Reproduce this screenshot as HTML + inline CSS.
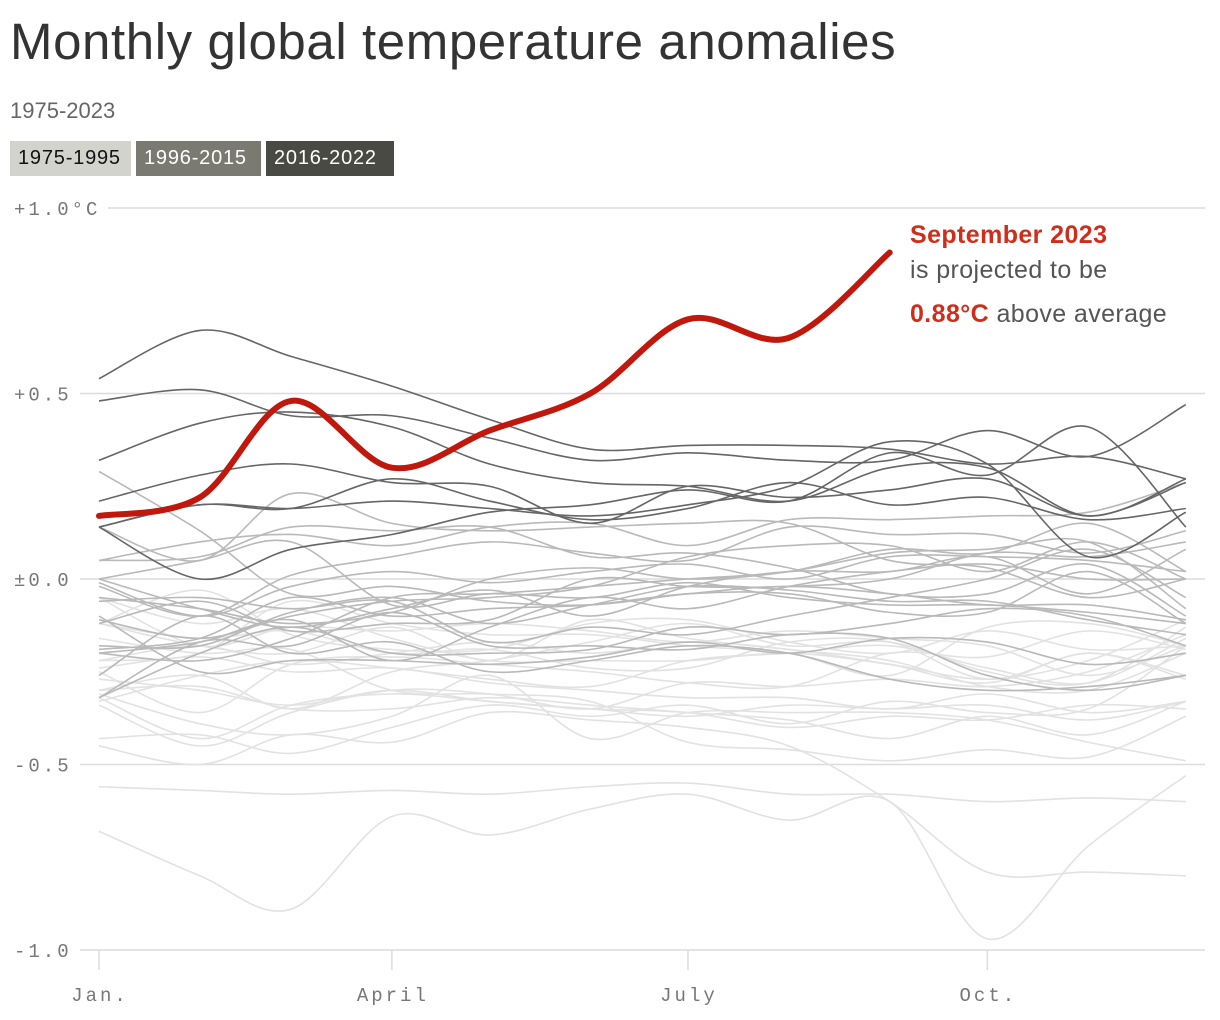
<!DOCTYPE html>
<html><head><meta charset="utf-8"><style>
body{margin:0;background:#fff;font-family:"Liberation Sans",sans-serif;}
#wrap{position:relative;width:1220px;height:1020px;overflow:hidden;}
h1{position:absolute;left:10px;top:12px;margin:0;font-size:51px;font-weight:400;color:#333;letter-spacing:0.6px;}
.sub{position:absolute;left:10px;top:98px;font-size:22px;color:#666;}
.lg{position:absolute;top:141px;height:35px;line-height:35px;font-size:20px;padding:0 0 0 8px;box-sizing:border-box;letter-spacing:0.8px;}
</style></head><body><div id="wrap">
<h1>Monthly global temperature anomalies</h1>
<div class="sub">1975-2023</div>
<div class="lg" style="left:10px;width:121px;background:#d3d3ce;color:#111">1975-1995</div>
<div class="lg" style="left:136px;width:125px;background:#7a7a70;color:#fff">1996-2015</div>
<div class="lg" style="left:266px;width:128px;background:#4a4a44;color:#fff">2016-2022</div>
<svg id="chart" width="1220" height="1020" style="position:absolute;left:0;top:0"></svg>
</div>
<script>
const months=["Jan.","Feb","Mar","April","May","Jun","July","Aug","Sep","Oct.","Nov","Dec"];
const monthStartDays=[0,31,59,90,120,151,181,212,243,273,304,334];
const xTickLabels=["Jan.","April","July","Oct."];
const xTickMonths=[0,3,6,9];
const yTicks=[1,0.5,0,-0.5,-1];
const yTickLabels=["+1.0°C","+0.5","±0.0","-0.5","-1.0"];
const lightYears=[
[-0.45,-0.50,-0.42,-0.44,-0.36,-0.38,-0.40,-0.45,-0.60,-0.79,-0.79,-0.80],
[-0.68,-0.80,-0.89,-0.64,-0.69,-0.62,-0.58,-0.65,-0.60,-0.97,-0.72,-0.53],
[-0.56,-0.57,-0.58,-0.57,-0.58,-0.56,-0.55,-0.58,-0.58,-0.60,-0.59,-0.60],
[-0.27,-0.30,-0.34,-0.30,-0.33,-0.35,-0.36,-0.40,-0.37,-0.38,-0.34,-0.35],
[-0.34,-0.45,-0.36,-0.30,-0.31,-0.35,-0.28,-0.29,-0.27,-0.29,-0.25,-0.15],
[-0.22,-0.18,-0.23,-0.20,-0.17,-0.20,-0.17,-0.19,-0.23,-0.28,-0.20,-0.27],
[-0.05,-0.12,-0.08,-0.16,-0.22,-0.22,-0.22,-0.20,-0.23,-0.27,-0.22,-0.11],
[-0.43,-0.42,-0.47,-0.40,-0.34,-0.37,-0.34,-0.39,-0.33,-0.36,-0.35,-0.18],
[-0.12,-0.16,-0.14,-0.20,-0.19,-0.24,-0.24,-0.17,-0.17,-0.27,-0.20,-0.26],
[-0.31,-0.39,-0.42,-0.37,-0.26,-0.43,-0.36,-0.36,-0.36,-0.38,-0.44,-0.49],
[-0.32,-0.43,-0.34,-0.31,-0.33,-0.35,-0.37,-0.34,-0.35,-0.34,-0.38,-0.33],
[-0.24,-0.21,-0.25,-0.24,-0.28,-0.30,-0.32,-0.32,-0.35,-0.31,-0.36,-0.33],
[-0.30,-0.26,-0.35,-0.25,-0.22,-0.17,-0.12,-0.18,-0.17,-0.25,-0.28,-0.13],
[-0.05,-0.18,-0.13,-0.14,-0.12,-0.14,-0.17,-0.14,-0.16,-0.18,-0.26,-0.18],
[-0.33,-0.26,-0.22,-0.24,-0.27,-0.29,-0.22,-0.20,-0.18,-0.24,-0.28,-0.16],
[-0.22,-0.20,-0.06,-0.12,-0.15,-0.15,-0.18,-0.20,-0.26,-0.13,-0.12,-0.18],
[-0.12,-0.18,-0.20,-0.13,-0.22,-0.11,-0.16,-0.19,-0.22,-0.29,-0.30,-0.20],
[-0.16,-0.20,-0.19,-0.30,-0.31,-0.33,-0.44,-0.46,-0.49,-0.46,-0.48,-0.37],
[-0.30,-0.29,-0.35,-0.35,-0.32,-0.34,-0.36,-0.38,-0.43,-0.37,-0.42,-0.33],
[-0.25,-0.36,-0.23,-0.21,-0.23,-0.25,-0.28,-0.29,-0.20,-0.21,-0.14,-0.19],
[-0.12,-0.03,-0.15,-0.19,-0.19,-0.12,-0.11,-0.17,-0.20,-0.14,-0.19,-0.18]];
const midYears=[
[-0.26,-0.10,-0.20,-0.17,-0.25,-0.22,-0.18,-0.20,-0.27,-0.30,-0.29,-0.26],
[-0.20,-0.17,-0.11,-0.22,-0.13,-0.05,-0.08,-0.02,0.02,0.04,0.00,0.00],
[0.14,0.05,0.23,0.15,0.13,0.14,0.15,0.15,0.05,0.03,-0.05,0.00],
[-0.10,-0.25,-0.22,-0.22,-0.23,-0.21,-0.17,-0.20,-0.16,-0.17,-0.23,-0.20],
[-0.32,-0.17,-0.18,-0.09,-0.18,-0.18,-0.19,-0.15,-0.16,-0.26,-0.30,-0.26],
[-0.19,-0.16,-0.05,-0.10,-0.08,-0.07,-0.04,-0.04,-0.09,-0.09,0.02,-0.12],
[0.00,0.05,0.10,-0.07,-0.04,-0.05,-0.01,-0.05,-0.07,-0.07,-0.09,-0.12],
[0.00,-0.08,-0.13,-0.08,-0.03,-0.10,-0.02,0.02,0.02,0.06,-0.04,0.08],
[-0.06,-0.05,-0.08,-0.06,-0.17,-0.13,-0.15,-0.10,-0.05,0.00,0.08,-0.05],
[-0.01,-0.10,-0.02,0.02,-0.01,0.02,0.04,0.00,0.06,0.06,0.05,0.02],
[-0.12,-0.06,-0.14,-0.12,-0.11,0.00,-0.02,-0.02,0.00,0.07,0.06,0.10],
[0.29,0.13,-0.04,-0.02,-0.06,-0.07,-0.04,-0.02,-0.04,-0.07,-0.07,-0.11],
[-0.32,-0.20,-0.13,-0.20,-0.20,-0.19,-0.13,-0.15,-0.12,-0.08,-0.10,-0.18],
[-0.11,-0.16,-0.10,-0.06,-0.05,-0.02,0.06,0.09,0.09,0.02,0.10,0.00],
[0.05,0.06,0.14,0.13,0.14,0.06,0.07,0.03,-0.04,-0.04,0.04,-0.10],
[-0.18,-0.18,-0.09,-0.05,-0.12,-0.07,-0.02,-0.03,-0.06,-0.06,-0.11,-0.15],
[-0.20,-0.22,-0.16,-0.05,-0.04,-0.02,0.00,0.02,0.07,0.08,0.10,-0.08],
[-0.05,-0.08,-0.12,-0.09,0.00,0.03,0.00,0.02,0.08,0.07,0.15,0.02],
[-0.02,-0.10,0.01,0.06,0.10,0.07,0.05,0.14,0.12,0.12,0.07,0.13],
[0.05,0.10,0.12,0.09,0.14,0.15,0.09,0.16,0.16,0.17,0.18,0.26]];
const darkYears=[
[0.54,0.67,0.60,0.52,0.43,0.35,0.36,0.36,0.35,0.31,0.33,0.27],
[0.48,0.51,0.44,0.44,0.38,0.32,0.34,0.32,0.32,0.40,0.33,0.47],
[0.32,0.42,0.45,0.41,0.31,0.26,0.25,0.21,0.30,0.30,0.17,0.27],
[0.21,0.28,0.31,0.26,0.25,0.15,0.25,0.22,0.24,0.27,0.17,0.26],
[0.14,0.20,0.19,0.27,0.21,0.16,0.19,0.26,0.20,0.22,0.16,0.19],
[0.14,0.00,0.08,0.12,0.18,0.20,0.24,0.21,0.34,0.28,0.41,0.14],
[0.14,0.20,0.19,0.21,0.19,0.17,0.20,0.25,0.37,0.31,0.06,0.18]];
const year2023=[0.17,0.22,0.48,0.30,0.40,0.50,0.70,0.65,0.88];

const NS="http://www.w3.org/2000/svg";
const svg=document.getElementById('chart');
const x=m=>99+monthStartDays[m]*3.254;
const y=v=>579-v*371;
function mk(t,a){const e=document.createElementNS(NS,t);for(const k in a)e.setAttribute(k,a[k]);svg.appendChild(e);return e;}
function path(vals){
  const p=vals.map((v,i)=>[x(i),y(v)]);
  let d="M"+p[0][0]+","+p[0][1];
  for(let i=0;i<p.length-1;i++){
    const p0=p[Math.max(0,i-1)],p1=p[i],p2=p[i+1],p3=p[Math.min(p.length-1,i+2)];
    const c1=[p1[0]+(p2[0]-p0[0])/6,p1[1]+(p2[1]-p0[1])/6];
    const c2=[p2[0]-(p3[0]-p1[0])/6,p2[1]-(p3[1]-p1[1])/6];
    d+=` C${c1[0]},${c1[1]} ${c2[0]},${c2[1]} ${p2[0]},${p2[1]}`;
  }
  return d;
}
yTicks.forEach((v,i)=>{
  const g=mk('line',{x1:i==0?108:80,x2:1205,y1:y(v),y2:y(v),stroke:'#dcdcdc','stroke-width':1.5});
  
  
  const t=mk('text',{x:14,y:y(v)+7,'font-family':'Liberation Mono, monospace','font-size':19,fill:'#777','letter-spacing':'3px'});
  t.textContent=yTickLabels[i];
  
  
});
xTickMonths.forEach((m,i)=>{
  const l=mk('line',{x1:x(m),x2:x(m),y1:950,y2:970,stroke:'#dcdcdc','stroke-width':1.5});
  
  
  const t=mk('text',{x:x(m)+1,y:1001,'text-anchor':'middle','font-family':'Liberation Mono, monospace','font-size':19,fill:'#777','letter-spacing':'3px'});
  t.textContent=xTickLabels[i];
  
  
});
[[lightYears,'#e2e2e2','light'],[midYears,'#b9b9b9','mid'],[darkYears,'#666','dark']].forEach(([set,c,n])=>{
  set.forEach(vals=>{
    const e=mk('path',{d:path(vals),fill:'none',stroke:c,'stroke-width':1.6});
    
    
  });
});
const r=mk('path',{d:path(year2023),fill:'none',stroke:'#c0180c','stroke-width':6,'stroke-linecap':'round'});


const ann=[["September 2023",910,243,'#d02d1a',600],["is projected to be",910,278,'#555',400]];
ann.forEach(a=>{const t=mk('text',{x:a[1],y:a[2],'font-size':25,fill:a[3],'font-weight':a[4],'letter-spacing':'0.4px'});t.textContent=a[0];

});
const t3=mk('text',{x:910,y:322,'font-size':25,fill:'#555','letter-spacing':'0.4px'});
t3.innerHTML='<tspan fill="#d02d1a" font-weight="700">0.88°C</tspan> above average';


</script></body></html>
